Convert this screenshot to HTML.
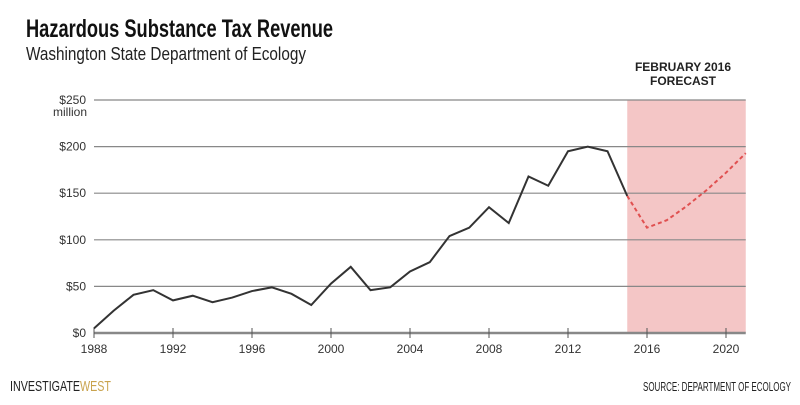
<!DOCTYPE html>
<html><head><meta charset="utf-8"><style>
body{margin:0;background:#fff;}
svg text{font-family:"Liberation Sans Narrow","Liberation Sans",sans-serif;}
</style></head><body>
<svg id="chart" width="800" height="400" xmlns="http://www.w3.org/2000/svg">
<text x="26" y="37" font-size="25" font-weight="bold" fill="#111" textLength="307" lengthAdjust="spacingAndGlyphs">Hazardous Substance Tax Revenue</text>
<text x="26" y="60" font-size="18" fill="#222" textLength="280" lengthAdjust="spacingAndGlyphs">Washington State Department of Ecology</text>
<g id="plot"></g>
<text x="683" y="71" font-size="12" font-weight="bold" text-anchor="middle" fill="#222">FEBRUARY 2016</text>
<text x="683" y="85" font-size="12" font-weight="bold" text-anchor="middle" fill="#222">FORECAST</text>
<text x="10" y="391" font-size="15" fill="#222" textLength="101" lengthAdjust="spacingAndGlyphs">INVESTIGATE<tspan fill="#c9a34e">WEST</tspan></text>
<text x="791" y="391" font-size="13" fill="#222" text-anchor="end" textLength="148" lengthAdjust="spacingAndGlyphs">SOURCE: DEPARTMENT OF ECOLOGY</text>
</svg>
<script>
const years=[1988,1989,1990,1991,1992,1993,1994,1995,1996,1997,1998,1999,2000,2001,2002,2003,2004,2005,2006,2007,2008,2009,2010,2011,2012,2013,2014,2015];
const revenue=[5,24,41,46,35,40,33,38,45,49,42,30,53,71,46,49,66,76,104,113,135,118,168,158,195,200,195,147];
const forecastYears=[2015,2016,2017,2018,2019,2020,2021];
const forecast=[147,113,121,136,153,172,193];
const yTicks=[0,50,100,150,200,250];
const yTickLabels=["$0","$50","$100","$150","$200","$250"];
const xTicks=[1988,1992,1996,2000,2004,2008,2012,2016,2020];
const NS="http://www.w3.org/2000/svg";
const x=v=>94+(v-1988)*19.75;
const y=v=>333-v*0.932;
const g=document.getElementById('plot');
function mk(t,a){const e=document.createElementNS(NS,t);for(const k in a)e.setAttribute(k,a[k]);g.appendChild(e);return e;}
let band=mk('rect',{x:x(2015),y:y(250),width:x(2021)-x(2015),height:y(0)-y(250),fill:'#f4c6c6'});


yTicks.forEach((t,i)=>{
  let l=mk('line',{x1:94,x2:x(2021),y1:y(t),y2:y(t),stroke:'#888','stroke-width':t===0?2.5:1.2});
  
  
  let tx=mk('text',{x:86,y:y(t)+4,'font-size':12,'text-anchor':'end',fill:'#333'});
  tx.textContent=yTickLabels[i];
  
  
});
let mil=mk('text',{x:87,y:y(250)+16,'font-size':12,'text-anchor':'end',fill:'#333'});
mil.textContent='million';


xTicks.forEach(t=>{
  let l=mk('line',{x1:x(t),x2:x(t),y1:y(0)-5,y2:y(0)+5,stroke:'#555','stroke-width':1});
  
  
  let tx=mk('text',{x:x(t),y:353,'font-size':12,'text-anchor':'middle',fill:'#333'});
  tx.textContent=t;
  
  
});
let p=mk('polyline',{points:years.map((v,i)=>x(v)+','+y(revenue[i])).join(' '),fill:'none',stroke:'#333','stroke-width':2});


let f=mk('polyline',{points:forecastYears.map((v,i)=>x(v)+','+y(forecast[i])).join(' '),fill:'none',stroke:'#e05050','stroke-width':2,'stroke-dasharray':'4,3'});


</script>
</body></html>
